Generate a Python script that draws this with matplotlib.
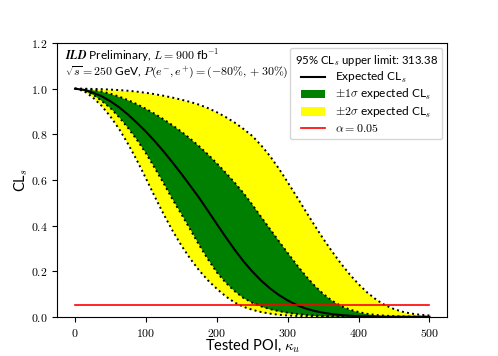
import numpy as np
import matplotlib
matplotlib.use("Agg")
import matplotlib.pyplot as plt
from matplotlib.ticker import FuncFormatter, MultipleLocator

plt.rcParams['font.family'] = ['Lato', 'DejaVu Sans']
plt.rcParams['mathtext.fontset'] = 'cm'

# tested POI grid (step 12.5) and CLs curves
poi = np.arange(0, 512.5, 12.5)
cls_exp = [1.000, 0.995, 0.983, 0.967, 0.945, 0.918, 0.886, 0.850, 0.812, 0.770,
           0.725, 0.677, 0.627, 0.575, 0.522, 0.465, 0.407, 0.350, 0.295, 0.244,
           0.199, 0.159, 0.125, 0.096, 0.072, 0.052, 0.037, 0.026, 0.018, 0.012,
           0.008, 0.005, 0.003, 0.002, 0.001, 0.0005, 0.0, 0.0, 0.0, 0.0, 0.0]
cls_m1 = [1.000, 0.993, 0.975, 0.947, 0.915, 0.874, 0.827, 0.775, 0.717, 0.652,
          0.585, 0.515, 0.450, 0.383, 0.315, 0.252, 0.195, 0.150, 0.113, 0.083,
          0.062, 0.046, 0.034, 0.025, 0.018, 0.013, 0.009, 0.006, 0.004, 0.003,
          0.002, 0.001, 0.0, 0.0, 0.0, 0.0, 0.0, 0.0, 0.0, 0.0, 0.0]
cls_p1 = [1.000, 0.999, 0.995, 0.988, 0.978, 0.965, 0.950, 0.932, 0.912, 0.890,
          0.866, 0.840, 0.812, 0.781, 0.748, 0.712, 0.673, 0.632, 0.589, 0.543,
          0.492, 0.438, 0.385, 0.332, 0.280, 0.229, 0.181, 0.138, 0.101, 0.071,
          0.048, 0.032, 0.021, 0.013, 0.008, 0.005, 0.003, 0.002, 0.001, 0.0005, 0.0]
cls_m2 = [1.000, 0.990, 0.962, 0.925, 0.878, 0.822, 0.757, 0.685, 0.607, 0.527,
          0.450, 0.378, 0.313, 0.255, 0.204, 0.160, 0.123, 0.090, 0.063, 0.044,
          0.031, 0.021, 0.014, 0.009, 0.006, 0.004, 0.003, 0.002, 0.001, 0.0,
          0.0, 0.0, 0.0, 0.0, 0.0, 0.0, 0.0, 0.0, 0.0, 0.0, 0.0]
cls_p2 = [1.000, 1.000, 0.999, 0.998, 0.996, 0.994, 0.991, 0.987, 0.982, 0.976,
          0.969, 0.961, 0.952, 0.942, 0.930, 0.915, 0.897, 0.876, 0.852, 0.824,
          0.793, 0.752, 0.705, 0.650, 0.590, 0.528, 0.465, 0.403, 0.343, 0.287,
          0.234, 0.186, 0.143, 0.106, 0.075, 0.051, 0.034, 0.022, 0.014, 0.009, 0.006]
alpha_level = 0.05
upper_limit = 313.38

fig = plt.figure(figsize=(4.98, 3.56), dpi=100)
ax = fig.add_axes([0.115, 0.11, 0.783, 0.769])

ax.fill_between(poi, cls_m2, cls_p2, color='yellow', lw=0,
                label=r'$\pm2\sigma$ expected CL$_s$')
ax.fill_between(poi, cls_m1, cls_p1, color='green', lw=0,
                label=r'$\pm1\sigma$ expected CL$_s$')
for band in [cls_m2, cls_p2, cls_m1, cls_p1]:
    ax.plot(poi, band, color='black', ls=':', lw=1.4)
ax.plot(poi, cls_exp, color='black', lw=1.5, label=r'Expected CL$_s$')
ax.plot([poi[0], poi[-1]], [alpha_level, alpha_level], color='red', lw=1.2,
        label=r'$\alpha = 0.05$')

ax.set_ylim(0, 1.2)
ax.yaxis.set_major_locator(MultipleLocator(0.2))
ax.xaxis.set_major_locator(MultipleLocator(100))
ax.xaxis.set_major_formatter(FuncFormatter(lambda v, p: f'${v:.0f}$'))
ax.yaxis.set_major_formatter(FuncFormatter(lambda v, p: f'${v:.1f}$'))
ax.tick_params(labelsize=8.5)
ax.set_xlabel(r'Tested POI, $\kappa_u$', fontsize=10.5, labelpad=-1)
ax.set_ylabel(r'CL$_s$', fontsize=10.5)
ax.yaxis.set_label_coords(-0.07, 0.5)

ax.text(0.02, 0.985,
        r'$\mathbfit{ILD}$ Preliminary, $L = 900$ fb$^{-1}$' + '\n'
        r'$\sqrt{s} = 250$ GeV, $P(e^{-}, e^{+}) = (-80\%, +30\%)$',
        transform=ax.transAxes, va='top', ha='left', fontsize=8.6,
        linespacing=1.05)

h, l = ax.get_legend_handles_labels()
order = [2, 1, 0, 3]
ax.legend([h[i] for i in order], [l[i] for i in order], loc='upper right',
          title=r'95% CL$_s$ upper limit: ' + f'{upper_limit:.2f}',
          fontsize=8.6, title_fontsize=8.2, handlelength=2.0,
          labelspacing=0.2, borderaxespad=0.4)

plt.savefig('out.png', dpi=100)
